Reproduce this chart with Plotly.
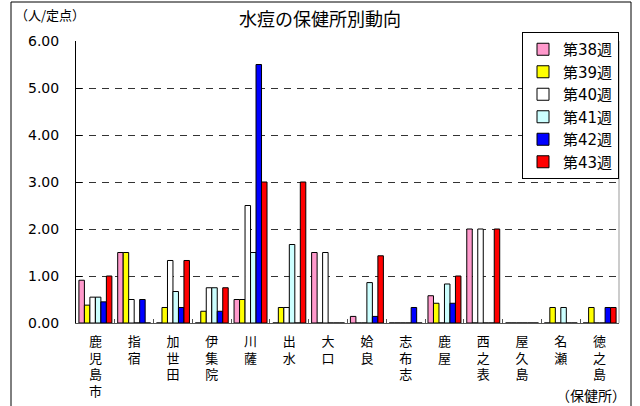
import plotly.graph_objects as go

# 保健所 (health centres) in display order
centres = ["鹿児島市", "指宿", "加世田", "伊集院", "川薩", "出水", "大口",
           "姶良", "志布志", "鹿屋", "西之表", "屋久島", "名瀬", "徳之島"]

# cases per sentinel site, by week
week38 = [0.91, 1.50, 0.00, 0.00, 0.50, 0.00, 1.50, 0.14, 0.00, 0.58, 2.00, 0.00, 0.00, 0.00]
week39 = [0.38, 1.50, 0.33, 0.25, 0.50, 0.33, 0.00, 0.00, 0.00, 0.42, 0.00, 0.00, 0.33, 0.33]
week40 = [0.55, 0.50, 1.33, 0.75, 2.50, 0.33, 1.50, 0.00, 0.00, 0.00, 2.00, 0.00, 0.00, 0.00]
week41 = [0.55, 0.00, 0.67, 0.75, 1.50, 1.67, 0.00, 0.86, 0.00, 0.83, 0.00, 0.00, 0.33, 0.00]
week42 = [0.45, 0.50, 0.33, 0.25, 5.50, 0.00, 0.00, 0.14, 0.33, 0.42, 0.00, 0.00, 0.00, 0.33]
week43 = [1.00, 0.00, 1.33, 0.75, 3.00, 3.00, 0.00, 1.43, 0.00, 1.00, 2.00, 0.00, 0.00, 0.33]

series_names = ["第38週", "第39週", "第40週", "第41週", "第42週", "第43週"]
series_values = [week38, week39, week40, week41, week42, week43]
series_colors = ["#FF99CC", "#FFFF00", "#FFFFFF", "#CCFFFF", "#0000FF", "#FF0000"]

y_ticks = [0, 1, 2, 3, 4, 5, 6]

W, H = 640, 406
ML, MR, MT, MB = 76, 21, 41, 83
PW, PH = W - ML - MR, H - MT - MB

def px_x(x):
    return (x - ML) / PW

def px_y(y):
    return (H - MB - y) / PH

# vertical tick labels: one character per line
tick_text = ["<br>".join(list(c)) for c in centres]

jp_font = "Noto Sans CJK JP"
mixed_font = "DejaVu Sans, " + jp_font

fig = go.Figure()
for name, vals, col in zip(series_names, series_values, series_colors):
    fig.add_trace(go.Bar(
        x=centres, y=vals, name=name,
        marker=dict(color=col, line=dict(color="#000000", width=1)),
    ))

fig.update_layout(
    width=W, height=H,
    margin=dict(l=ML, r=MR, t=MT, b=MB),
    paper_bgcolor="white", plot_bgcolor="white",
    barmode="group", bargap=0.15, bargroupgap=0,
    showlegend=True,
    legend=dict(
        x=px_x(522), y=px_y(32), xanchor="left", yanchor="top",
        bgcolor="white", bordercolor="#000000", borderwidth=1,
        font=dict(family=mixed_font, size=15, color="#000000"),
        tracegroupgap=0, itemwidth=30,
        entrywidth=62, entrywidthmode="pixels",
    ),
    title=dict(
        text="水痘の保健所別動向",
        x=320 / W, xanchor="center", y=1 - 20 / H, yanchor="middle",
        font=dict(family=jp_font, size=18, color="#000000"),
    ),
    xaxis=dict(
        type="category", automargin=False,
        tickmode="array", tickvals=centres, ticktext=tick_text,
        tickfont=dict(family=mixed_font, size=13, color="#000000"),
        tickangle=0,
        showline=True, linecolor="#555555", linewidth=1,
        ticks="inside", ticklen=4, tickcolor="#555555", tickson="boundaries",
        ticklabelstandoff=6,
        showgrid=False, fixedrange=True,
    ),
    yaxis=dict(
        range=[0, 6], automargin=False,
        tickmode="array", tickvals=y_ticks,
        ticktext=[f"{v:.2f}" for v in y_ticks],
        tickfont=dict(family="DejaVu Sans", size=14, color="#000000"),
        showline=True, linecolor="#000000", linewidth=1,
        ticks="inside", ticklen=6, tickcolor="#000000",
        ticklabelstandoff=13,
        showgrid=True, gridcolor="#333333", gridwidth=1, griddash="7px,6px",
        zeroline=False, fixedrange=True,
    ),
    shapes=[
        # right edge of plot area
        dict(type="line", xref="paper", yref="paper", x0=1, x1=1, y0=0, y1=1,
             line=dict(color="#999999", width=1)),
        # outer chart frame
        dict(type="rect", xref="paper", yref="paper",
             x0=px_x(11), x1=px_x(631), y0=px_y(420), y1=px_y(2),
             line=dict(color="#000000", width=1), fillcolor="rgba(0,0,0,0)",
             layer="above"),
    ],
    annotations=[
        dict(text="（人/定点）", xref="paper", yref="paper",
             x=px_x(13), y=px_y(15), xanchor="left", yanchor="middle",
             showarrow=False, font=dict(family=jp_font, size=13, color="#000000")),
        dict(text="（保健所）", xref="paper", yref="paper",
             x=px_x(628), y=px_y(395), xanchor="right", yanchor="middle",
             showarrow=False, font=dict(family=jp_font, size=14, color="#000000")),
    ],
)

fig.write_html("out.html")
